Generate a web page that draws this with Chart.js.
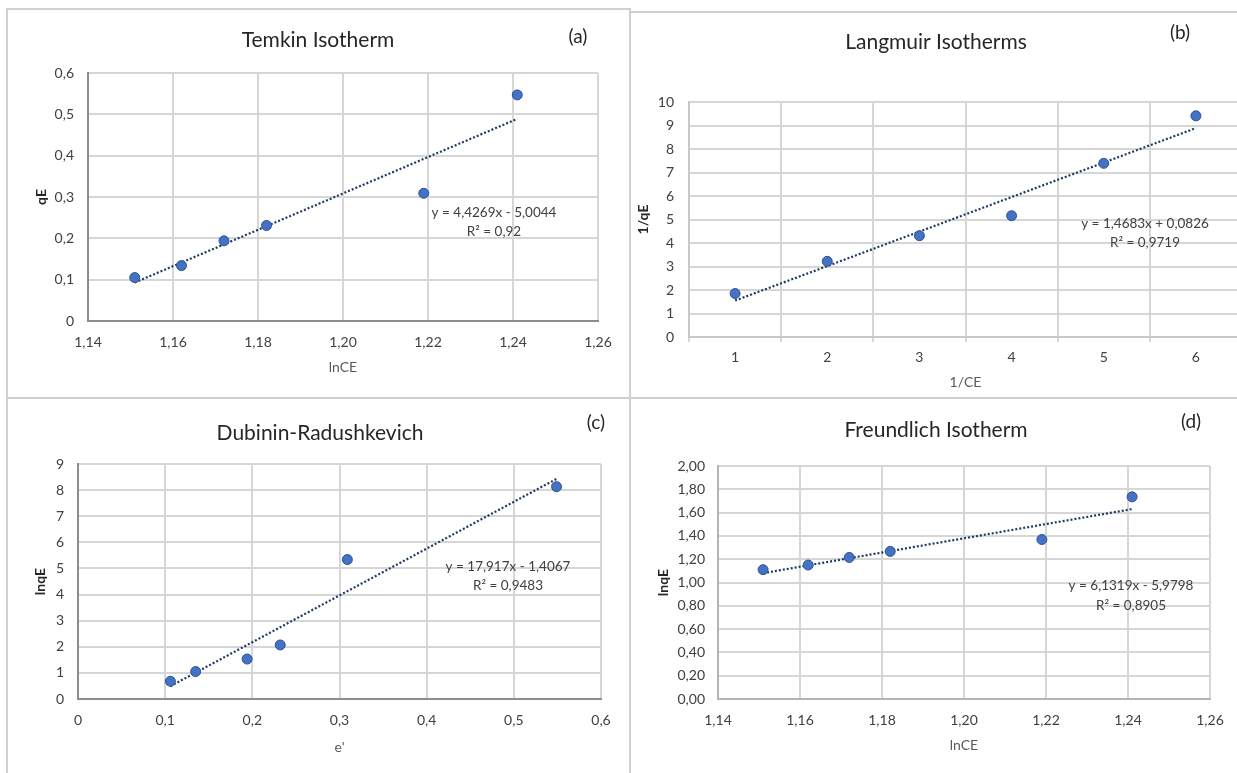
<!DOCTYPE html>
<html>
<head>
<meta charset="utf-8">
<script src="https://cdn.jsdelivr.net/npm/chart.js@4.4.1/dist/chart.umd.min.js"></script>
<style>
  html, body { margin: 0; padding: 0; background: #fff; }
  body { width: 1237px; height: 773px; position: relative; overflow: hidden; }
  canvas { position: absolute; }
  .frame { position: absolute; border: 2px solid #d0d0d0; box-sizing: border-box; }
</style>
</head>
<body>
<div class="frame" style="left:6px;top:8px;width:625px;height:391px"></div>
<div class="frame" style="left:629px;top:11px;width:700px;height:388px"></div>
<div class="frame" style="left:6px;top:397px;width:625px;height:400px"></div>
<div class="frame" style="left:629px;top:397px;width:700px;height:400px"></div>

<canvas id="temkin"></canvas>
<canvas id="langmuir"></canvas>
<canvas id="dubinin"></canvas>
<canvas id="freundlich"></canvas>

<script>
//// data
const lnCE = [1.151, 1.162, 1.172, 1.182, 1.219, 1.241]
const qE = [0.105, 0.134, 0.194, 0.231, 0.309, 0.547]

const invCE = ['1', '2', '3', '4', '5', '6']
const invQE = [1.85, 3.22, 4.31, 5.16, 7.39, 9.41]

const ePrime = [0.106, 0.135, 0.194, 0.232, 0.309, 0.549]
const lnqE_DR = [0.68, 1.05, 1.53, 2.07, 5.34, 8.13]

const lnqE_F = [1.11, 1.15, 1.215, 1.267, 1.369, 1.735]

// trendline ends (first / last point)
const trendTemkin = [0.093, 0.489]
const trendLangmuir = [1.55, 8.89]
const trendDR = [0.49, 8.43]
const trendFreundlich = [1.08, 1.63]

const eqTemkin = ['y = 4,4269x - 5,0044', 'R² = 0,92']
const eqLangmuir = ['y = 1,4683x + 0,0826', 'R² = 0,9719']
const eqDR = ['y = 17,917x - 1,4067', 'R² = 0,9483']
const eqFreundlich = ['y = 6,1319x - 5,9798', 'R² = 0,8905']


//// styles
const FONT = 'Lato, "Open Sans", sans-serif'
const tickFont = { family: FONT, size: 14 }
const xTitleFont = { family: FONT, size: 14 }
const yTitleFont = { family: FONT, size: 14, weight: 'bold' }
const markerFill = '#4472c4'
const markerEdge = '#2f528f'
const trendColor = '#1f3864'
const gridColor = '#d6d6d6'

const comma = (v, d) => v.toFixed(d).replace('.', ',')

// draws chart titles, (a)-(d) and the trendline equations
const panelText = {
    id: 'panelText',
    afterDraw(chart, args, opts) {
        const ctx = chart.ctx
        opts.items.forEach(t => {
            ctx.save()
            ctx.font = t.font
            ctx.fillStyle = t.color
            ctx.textAlign = 'center'
            ctx.textBaseline = 'middle'
            ctx.fillText(t.text, t.x, t.y)
            ctx.restore()
        })
    }
}

function pointSet(data) {
    return {
        data: data,
        showLine: false,
        pointRadius: 5,
        pointHoverRadius: 5,
        pointBackgroundColor: markerFill,
        pointBorderColor: markerEdge,
        pointBorderWidth: 1,
        order: 0
    }
}

function trendSet(data) {
    return {
        data: data,
        showLine: true,
        spanGaps: true,
        borderColor: trendColor,
        borderWidth: 2.2,
        borderDash: [2, 2],
        pointRadius: 0,
        fill: false,
        order: 1
    }
}

// box: canvas position on the page, plot: plot area on the page
function panel(c) {
    const cv = document.getElementById(c.id)
    cv.width = c.box.w
    cv.height = c.box.h
    cv.style.left = c.box.x + 'px'
    cv.style.top = c.box.y + 'px'

    const L = c.plot.l - c.box.x
    const T = c.plot.t - c.box.y
    const R = c.plot.r - c.box.x
    const B = c.plot.b - c.box.y
    const xAxisH = c.box.h - B - 2
    const xTl = c.xTickLen || 0

    const x = c.xScale, y = c.yScale
    x.afterFit = s => { s.height = xAxisH }
    y.afterFit = s => { s.width = L }
    x.ticks = Object.assign({ font: tickFont, color: '#404040', maxRotation: 0, autoSkip: false,
        padding: c.xTickY - c.plot.b - xTl - tickFont.size * 0.6 }, x.ticks)
    y.ticks = Object.assign({ font: tickFont, color: '#404040',
        padding: c.plot.l - c.yTickR }, y.ticks)
    x.title = { display: true, text: c.xTitle, font: xTitleFont, color: '#595959',
        padding: { top: 0, bottom: (c.box.y + c.box.h - 2) - c.xTitleY - xTitleFont.size * 0.6 } }
    y.title = { display: true, text: c.yTitle, font: yTitleFont, color: '#262626',
        padding: { top: (c.yTitleX - c.box.x) - yTitleFont.size * 0.6, bottom: 0 } }
    x.grid = Object.assign({ color: gridColor, lineWidth: 2, drawTicks: false }, x.grid)
    y.grid = Object.assign({ color: gridColor, lineWidth: 2, drawTicks: false }, y.grid)
    x.border = { color: c.axisColor, width: 2 }
    y.border = { color: c.axisColor, width: 2 }

    const items = [
        { text: c.title, x: c.titlePos[0] - c.box.x, y: c.titlePos[1] - c.box.y, font: '21px ' + FONT, color: '#262626' },
        { text: c.tag, x: c.tagPos[0] - c.box.x, y: c.tagPos[1] - c.box.y, font: '19px ' + FONT, color: '#262626' },
        { text: c.eq[0], x: c.eqPos[0] - c.box.x, y: c.eqPos[1] - c.box.y, font: '13.5px ' + FONT, color: '#404040' },
        { text: c.eq[1], x: c.eqPos[0] - c.box.x, y: c.eqPos[2] - c.box.y, font: '13.5px ' + FONT, color: '#404040' }
    ]

    return new Chart(cv, {
        type: c.type,
        data: c.data,
        options: {
            responsive: false,
            animation: false,
            devicePixelRatio: 1,
            layout: { padding: { left: 0, top: T, right: c.box.w - R, bottom: c.box.h - B - xAxisH } },
            scales: { x: x, y: y },
            plugins: {
                legend: { display: false },
                tooltip: { enabled: false },
                panelText: { items: items }
            }
        },
        plugins: [panelText]
    })
}


//// charts
let temkinChart = panel({
    id: 'temkin', type: 'scatter',
    box: { x: 7, y: 9, w: 622, h: 388 },
    plot: { l: 88, t: 73, r: 598, b: 321 },
    xTickY: 342, xTitleY: 367, yTickR: 74, yTitleX: 41,
    axisColor: '#8c8c8c',
    title: 'Temkin Isotherm', titlePos: [318, 40],
    tag: '(a)', tagPos: [578, 37],
    eq: eqTemkin, eqPos: [494, 213, 232],
    xTitle: 'lnCE', yTitle: 'qE',
    data: {
        datasets: [
            pointSet(lnCE.map((v, i) => ({ x: v, y: qE[i] }))),
            trendSet([{ x: lnCE[0], y: trendTemkin[0] }, { x: lnCE[lnCE.length - 1], y: trendTemkin[1] }])
        ]
    },
    xScale: { type: 'linear', min: 1.14, max: 1.26, ticks: { stepSize: 0.02, callback: v => comma(v, 2) } },
    yScale: { min: 0, max: 0.6, ticks: { stepSize: 0.1, callback: v => v === 0 ? '0' : comma(v, 1) } }
})

let langmuirChart = panel({
    id: 'langmuir', type: 'line',
    box: { x: 629, y: 12, w: 620, h: 385 },
    plot: { l: 689, t: 102, r: 1242, b: 337 },
    xTickY: 357, xTitleY: 382, yTickR: 674, yTitleX: 643, xTickLen: 5,
    axisColor: '#c8c8c8',
    title: 'Langmuir Isotherms', titlePos: [936, 42],
    tag: '(b)', tagPos: [1180, 33],
    eq: eqLangmuir, eqPos: [1145, 224, 243],
    xTitle: '1/CE', yTitle: '1/qE',
    data: {
        labels: invCE,
        datasets: [
            pointSet(invQE),
            trendSet([trendLangmuir[0], null, null, null, null, trendLangmuir[1]])
        ]
    },
    xScale: { type: 'category', offset: true, grid: { offset: true, drawTicks: true, tickLength: 5 } },
    yScale: { min: 0, max: 10, ticks: { stepSize: 1 } }
})

let dubininChart = panel({
    id: 'dubinin', type: 'scatter',
    box: { x: 7, y: 398, w: 622, h: 375 },
    plot: { l: 78, t: 464, r: 601, b: 699 },
    xTickY: 720, xTitleY: 747, yTickR: 64, yTitleX: 40,
    axisColor: '#8c8c8c',
    title: 'Dubinin-Radushkevich', titlePos: [320, 433],
    tag: '(c)', tagPos: [596, 423],
    eq: eqDR, eqPos: [508, 567, 586],
    xTitle: "e'", yTitle: 'lnqE',
    data: {
        datasets: [
            pointSet(ePrime.map((v, i) => ({ x: v, y: lnqE_DR[i] }))),
            trendSet([{ x: ePrime[0], y: trendDR[0] }, { x: ePrime[ePrime.length - 1], y: trendDR[1] }])
        ]
    },
    xScale: { type: 'linear', min: 0, max: 0.6, ticks: { stepSize: 0.1, callback: v => v === 0 ? '0' : comma(v, 1) } },
    yScale: { min: 0, max: 9, ticks: { stepSize: 1 } }
})

let freundlichChart = panel({
    id: 'freundlich', type: 'scatter',
    box: { x: 630, y: 398, w: 620, h: 375 },
    plot: { l: 718, t: 466, r: 1210, b: 699 },
    xTickY: 720, xTitleY: 745, yTickR: 705, yTitleX: 663,
    axisColor: '#b4b4b4',
    title: 'Freundlich Isotherm', titlePos: [936, 430],
    tag: '(d)', tagPos: [1191, 422],
    eq: eqFreundlich, eqPos: [1131, 586, 606],
    xTitle: 'lnCE', yTitle: 'lnqE',
    data: {
        datasets: [
            pointSet(lnCE.map((v, i) => ({ x: v, y: lnqE_F[i] }))),
            trendSet([{ x: lnCE[0], y: trendFreundlich[0] }, { x: lnCE[lnCE.length - 1], y: trendFreundlich[1] }])
        ]
    },
    xScale: { type: 'linear', min: 1.14, max: 1.26, ticks: { stepSize: 0.02, callback: v => comma(v, 2) } },
    yScale: { min: 0, max: 2, ticks: { stepSize: 0.2, callback: v => comma(v, 2) } }
})
</script>
</body>
</html>
